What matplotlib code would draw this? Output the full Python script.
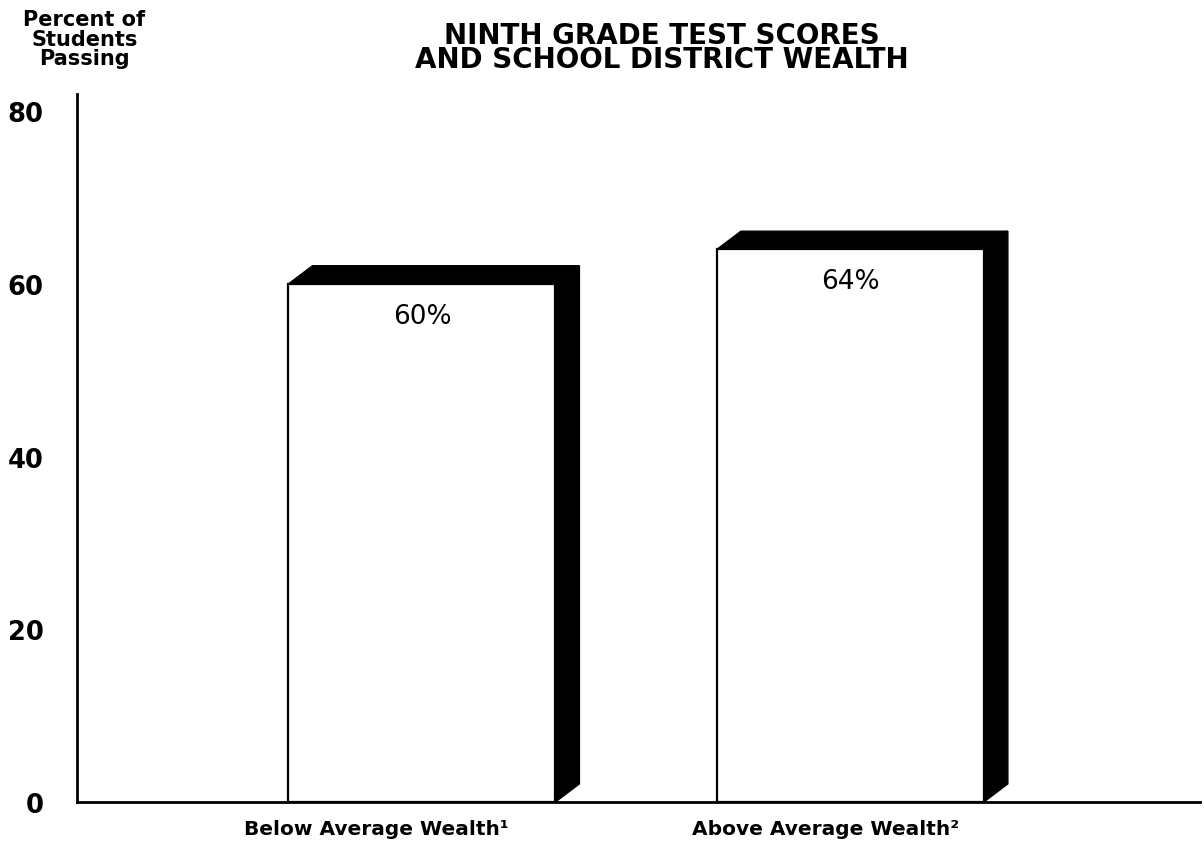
"""Ninth grade test scores vs school district wealth: white bars with black 3D depth."""

import matplotlib
matplotlib.use("Agg")
import matplotlib.pyplot as plt
from matplotlib.patches import Polygon

plt.rcParams['font.family'] = ['DejaVu Sans']

# data
categories = ["Below Average Wealth\u00b9", "Above Average Wealth\u00b2"]
percent_passing = [60, 64]
y_ticks = [0, 20, 40, 60, 80]

# layout
bar_width = 0.623
depth_x = 0.056   # depth in category units
depth_y = 2.1     # depth in percent units

fig = plt.figure(figsize=(12.04, 8.45), dpi=100)
ax = fig.add_axes([0.064, 0.0497, 0.9327, 0.838])

xs = list(range(len(categories)))
ax.bar(xs, percent_passing, width=bar_width, color='white',
       edgecolor='black', linewidth=1.6, zorder=3)

# black top and side faces
for x, v in zip(xs, percent_passing):
    x0, x1 = x - bar_width / 2, x + bar_width / 2
    top = Polygon([(x0, v), (x0 + depth_x, v + depth_y),
                   (x1 + depth_x, v + depth_y), (x1, v)],
                  closed=True, facecolor='black', edgecolor='black', zorder=2)
    side = Polygon([(x1, v), (x1 + depth_x, v + depth_y),
                    (x1 + depth_x, depth_y), (x1, 0)],
                   closed=True, facecolor='black', edgecolor='black', zorder=2)
    ax.add_patch(top)
    ax.add_patch(side)
    ax.text(x, v - 3.7, f"{v}%", ha='center', va='center',
            fontsize=19, zorder=4)

ax.set_xlim(-0.805, 1.816)
ax.set_ylim(0, 82)
ax.set_yticks(y_ticks)
ax.set_yticklabels([str(t) for t in y_ticks], fontsize=18.5, fontweight='bold')
ax.tick_params(axis='y', length=0, pad=24)

ax.set_xticks([-0.107, 0.943])
ax.set_xticklabels(categories, fontsize=14.5, fontweight='bold')
ax.tick_params(axis='x', length=0, pad=12)

for side in ['top', 'right']:
    ax.spines[side].set_visible(False)
ax.spines['left'].set_linewidth(2)
ax.spines['bottom'].set_linewidth(2)

fig.text(0.07, 0.953, "Percent of\nStudents\nPassing", ha='center', va='center',
         fontsize=15, fontweight='bold', linespacing=0.96)
fig.text(0.55, 0.943, "NINTH GRADE TEST SCORES\nAND SCHOOL DISTRICT WEALTH",
         ha='center', va='center', fontsize=20, fontweight='bold', linespacing=0.8)

fig.savefig("out.png", dpi=100)
